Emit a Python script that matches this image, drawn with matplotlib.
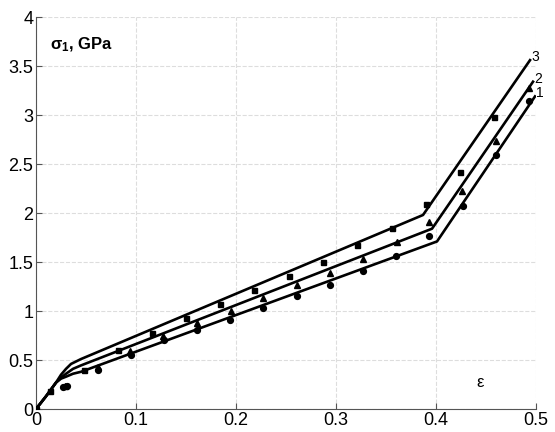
import matplotlib.pyplot as plt

plt.rcParams['font.family'] = ['Liberation Sans', 'DejaVu Sans']
plt.rcParams['mathtext.fontset'] = 'custom'
plt.rcParams['mathtext.rm'] = 'Liberation Sans'
plt.rcParams['mathtext.it'] = 'Liberation Sans'
plt.rcParams['mathtext.bf'] = 'Liberation Sans:bold'

# model curves
c3_x = [0, 0.010, 0.020, 0.025, 0.030, 0.035, 0.045, 0.387, 0.494]
c3_y = [0, 0.13, 0.27, 0.35, 0.41, 0.46, 0.51, 1.98, 3.56]
c2_x = [0, 0.010, 0.020, 0.025, 0.030, 0.037, 0.045, 0.396, 0.497]
c2_y = [0, 0.13, 0.27, 0.32, 0.36, 0.41, 0.445, 1.84, 3.34]
c1_x = [0, 0.010, 0.020, 0.025, 0.030, 0.037, 0.045, 0.401, 0.499]
c1_y = [0, 0.13, 0.27, 0.31, 0.33, 0.36, 0.38, 1.71, 3.19]

# experimental points
sq_x = [0, 0.014, 0.048, 0.082, 0.116, 0.150, 0.184, 0.218, 0.253, 0.287,
        0.321, 0.356, 0.390, 0.424, 0.458]
sq_y = [0, 0.18, 0.40, 0.60, 0.78, 0.93, 1.07, 1.21, 1.36, 1.50,
        1.67, 1.85, 2.09, 2.42, 2.98]
tr_x = [0.029, 0.062, 0.094, 0.127, 0.161, 0.195, 0.227, 0.261, 0.294,
        0.327, 0.361, 0.393, 0.426, 0.460, 0.493]
tr_y = [0.23, 0.43, 0.59, 0.74, 0.88, 1.00, 1.13, 1.27, 1.39,
        1.53, 1.70, 1.91, 2.22, 2.73, 3.28]
ci_x = [0.027, 0.031, 0.062, 0.095, 0.128, 0.161, 0.194, 0.227, 0.261,
        0.294, 0.327, 0.360, 0.393, 0.427, 0.460, 0.493]
ci_y = [0.22, 0.23, 0.40, 0.55, 0.70, 0.81, 0.91, 1.03, 1.15,
        1.27, 1.41, 1.56, 1.77, 2.07, 2.59, 3.14]

curve_labels = ['1', '2', '3']

fig = plt.figure(figsize=(5.55, 4.32), dpi=100)
ax = fig.add_axes([0.0649, 0.0532, 0.9009, 0.9074])

for cx, cy in [(c1_x, c1_y), (c2_x, c2_y), (c3_x, c3_y)]:
    ax.plot(cx, cy, color='black', lw=1.9, solid_joinstyle='round', zorder=3)

ax.plot(sq_x, sq_y, 's', color='black', ms=3.6, zorder=4)
ax.plot(tr_x, tr_y, '^', color='black', ms=4.2, zorder=4)
ax.plot(ci_x, ci_y, 'o', color='black', ms=4.2, zorder=4)

ends = [(c1_x[-1], c1_y[-1]), (c2_x[-1], c2_y[-1]), (c3_x[-1], c3_y[-1])]
for lab, (ex, ey) in zip(curve_labels, ends):
    ax.text(ex + 0.001, ey + 0.03, lab, fontsize=10, ha='left', va='center')

ax.text(0.0135, 3.72, r'$\mathbf{\sigma_1}$, GPa', fontsize=12, fontweight='bold',
        ha='left', va='center')
ax.text(0.444, 0.27, 'ε', fontsize=12, ha='center', va='center')

ax.set_xlim(0, 0.5)
ax.set_ylim(0, 4)
ax.set_xticks([0, 0.1, 0.2, 0.3, 0.4, 0.5])
ax.set_xticklabels(['0', '0.1', '0.2', '0.3', '0.4', '0.5'])
ax.set_yticks([0, 0.5, 1, 1.5, 2, 2.5, 3, 3.5, 4])
ax.set_yticklabels(['0', '0.5', '1', '1.5', '2', '2.5', '3', '3.5', '4'])
ax.tick_params(direction='in', length=4, labelsize=13, color='#555555', pad=2)
ax.grid(True, color='#dddddd', ls='--', lw=0.8)
ax.set_axisbelow(True)
for s in ['top', 'right']:
    ax.spines[s].set_visible(False)
for s in ['left', 'bottom']:
    ax.spines[s].set_color('#555555')

fig.savefig('out.png', dpi=100)
